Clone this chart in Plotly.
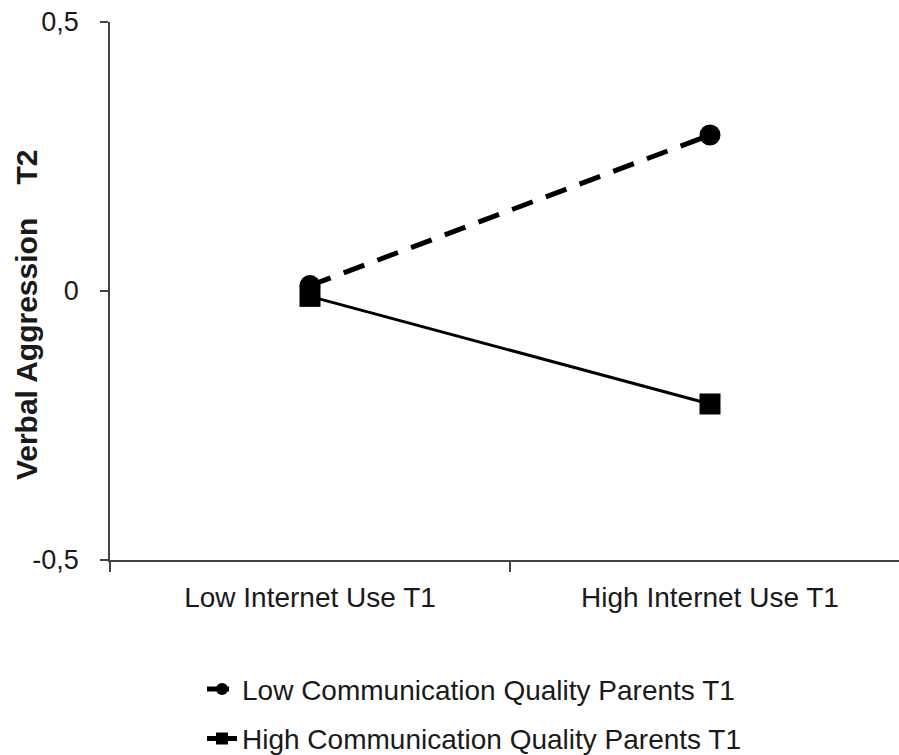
import plotly.graph_objects as go

categories = ["Low Internet Use T1", "High Internet Use T1"]
low_comm = [0.01, 0.29]
high_comm = [-0.01, -0.21]
series_names = ["Low Communication Quality Parents T1", "High Communication Quality Parents T1"]
y_tickvals = [-0.5, 0, 0.5]
y_ticktext = ["-0,5", "0", "0,5"]
y_title = "Verbal Aggression\u00a0\u00a0\u00a0\u00a0T2"

FONT = "Liberation Sans, Arial, sans-serif"

fig = go.Figure()
fig.add_trace(go.Scatter(
    x=categories, y=low_comm, name=series_names[0], mode="lines+markers",
    line=dict(color="black", width=5, dash="22px,14px"),
    marker=dict(symbol="circle", size=21, color="black"),
    legendgroup="a",
))
fig.add_trace(go.Scatter(
    x=categories, y=high_comm, name=series_names[1], mode="lines+markers",
    line=dict(color="black", width=3),
    marker=dict(symbol="square", size=21, color="black"),
    legendgroup="b",
))

fig.update_layout(
    width=899, height=755,
    margin=dict(l=110, r=0, t=22, b=195, autoexpand=False),
    plot_bgcolor="white", paper_bgcolor="white",
    font=dict(family=FONT, size=28, color="#1a1a1a"),
    showlegend=True,
    legend=dict(
        x=0.1166, xanchor="left", y=-0.194, yanchor="top",
        font=dict(size=28, color="#1a1a1a"),
        tracegroupgap=10, bgcolor="rgba(0,0,0,0)",
        itemsizing="constant",
    ),
    xaxis=dict(
        type="category", range=[-0.5, 1.4725],
        showline=True, linecolor="#444", linewidth=1.5,
        ticks="outside", tickson="boundaries", ticklen=10, tickcolor="#444", tickwidth=1.5,
        showgrid=False, zeroline=False,
        tickfont=dict(size=28, color="#1a1a1a"),
        ticklabelstandoff=12,
    ),
    yaxis=dict(
        range=[-0.5, 0.5], tickvals=y_tickvals, ticktext=y_ticktext,
        showline=True, linecolor="#444", linewidth=1.5,
        ticks="outside", ticklen=8, tickcolor="#444", tickwidth=1.5,
        showgrid=False, zeroline=False,
        tickfont=dict(size=27, color="#1a1a1a"),
        ticklabelstandoff=16,
    ),
    annotations=[dict(
        text=y_title, xref="paper", yref="paper",
        x=-0.1065, y=0.457, xanchor="center", yanchor="middle",
        textangle=-90, showarrow=False,
        font=dict(family=FONT, size=30, color="#1a1a1a", weight="bold"),
    )],
)

fig.write_html(
    "out.html",
    config={"displayModeBar": False},
    post_script="document.body.style.margin='0';document.body.style.overflow='hidden';",
)
